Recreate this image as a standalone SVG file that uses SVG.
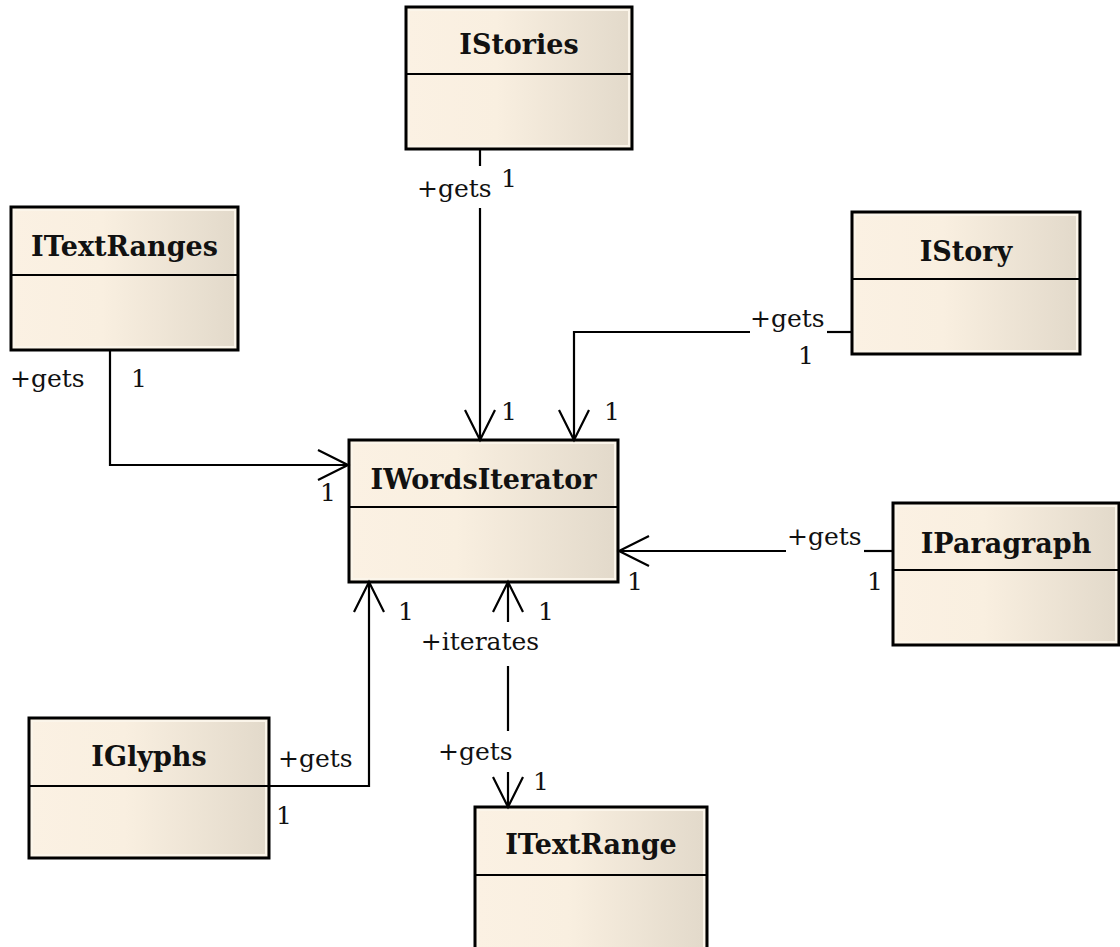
<svg xmlns="http://www.w3.org/2000/svg" width="1120" height="947" viewBox="0 0 1120 947">
<defs>
<linearGradient id="fill" x1="0" y1="0" x2="1" y2="0">
<stop offset="0" stop-color="#FBF1E3"/>
<stop offset="0.4" stop-color="#F9EFE0"/>
<stop offset="1" stop-color="#E2D9CA"/>
</linearGradient>
<marker id="open" viewBox="-34 -20 40 40" markerWidth="40" markerHeight="40" refX="0" refY="0" orient="auto" markerUnits="userSpaceOnUse">
<path d="M-30,-15 L0,0 L-30,15" fill="none" stroke="#000" stroke-width="2.2"/>
</marker>
<style>
.box{fill:url(#fill);stroke:#000;stroke-width:3}
.hl{fill:none;stroke:#FBF5EA;stroke-width:2}
.div{stroke:#000;stroke-width:2.2}
.title{font-family:"DejaVu Serif","Liberation Serif",serif;font-weight:bold;font-size:27px;text-anchor:middle;fill:#111}
.lbl{font-family:"DejaVu Serif","Liberation Serif",serif;font-size:25px;fill:#111}
.ln{fill:none;stroke:#000;stroke-width:2.2}
</style>
</defs>
<rect width="1120" height="947" fill="#fff"/>

<g id="IStories">
<rect class="box" x="406" y="7" width="226" height="142"/>
<rect class="hl" x="409" y="10" width="220" height="136"/>
<line class="div" x1="406" y1="74" x2="632" y2="74"/>
<text class="title" x="519" y="54">IStories</text>
</g>

<g id="ITextRanges">
<rect class="box" x="11" y="207" width="227" height="143"/>
<rect class="hl" x="14" y="210" width="221" height="137"/>
<line class="div" x1="11" y1="275" x2="238" y2="275"/>
<text class="title" x="124.5" y="256">ITextRanges</text>
</g>

<g id="IStory">
<rect class="box" x="852" y="212" width="228" height="142"/>
<rect class="hl" x="855" y="215" width="222" height="136"/>
<line class="div" x1="852" y1="279" x2="1080" y2="279"/>
<text class="title" x="966" y="261">IStory</text>
</g>

<g id="IWordsIterator">
<rect class="box" x="349" y="440" width="269" height="142"/>
<rect class="hl" x="352" y="443" width="263" height="136"/>
<line class="div" x1="349" y1="507" x2="618" y2="507"/>
<text class="title" x="483.5" y="489">IWordsIterator</text>
</g>

<g id="IParagraph">
<rect class="box" x="893" y="503" width="226" height="142"/>
<rect class="hl" x="896" y="506" width="220" height="136"/>
<line class="div" x1="893" y1="570" x2="1119" y2="570"/>
<text class="title" x="1006" y="553">IParagraph</text>
</g>

<g id="IGlyphs">
<rect class="box" x="29" y="718" width="240" height="140"/>
<rect class="hl" x="32" y="721" width="234" height="134"/>
<line class="div" x1="29" y1="786" x2="269" y2="786"/>
<text class="title" x="149" y="766">IGlyphs</text>
</g>

<g id="ITextRange">
<rect class="box" x="475" y="807" width="232" height="160"/>
<rect class="hl" x="478" y="810" width="226" height="154"/>
<line class="div" x1="475" y1="875" x2="707" y2="875"/>
<text class="title" x="591" y="854">ITextRange</text>
</g>

<g id="connectors">
<path class="ln" d="M480,149 V166"/>
<path class="ln" d="M480,208 V440" marker-end="url(#open)"/>
<path class="ln" d="M110,350 V465 H348" marker-end="url(#open)"/>
<path class="ln" d="M852,332 H827"/>
<path class="ln" d="M750,332 H574 V440" marker-end="url(#open)"/>
<path class="ln" d="M893,551 H864"/>
<path class="ln" d="M786,551 H619" marker-end="url(#open)"/>
<path class="ln" d="M269,786 H369 V582" marker-end="url(#open)"/>
<path class="ln" d="M508,622 V582" marker-end="url(#open)"/>
<path class="ln" d="M508,666 V731"/>
<path class="ln" d="M508,772 V807" marker-end="url(#open)"/>

<text class="lbl" x="417" y="197">+gets</text>
<text class="lbl" x="501" y="187">1</text>
<text class="lbl" x="501" y="420">1</text>

<text class="lbl" x="10" y="387">+gets</text>
<text class="lbl" x="131" y="387">1</text>
<text class="lbl" x="320" y="501">1</text>

<text class="lbl" x="750" y="327">+gets</text>
<text class="lbl" x="798" y="364">1</text>
<text class="lbl" x="604" y="420">1</text>

<text class="lbl" x="787" y="545">+gets</text>
<text class="lbl" x="867" y="590">1</text>
<text class="lbl" x="627" y="590">1</text>

<text class="lbl" x="278" y="767">+gets</text>
<text class="lbl" x="276" y="824">1</text>
<text class="lbl" x="398" y="620">1</text>

<text class="lbl" x="538" y="620">1</text>
<text class="lbl" x="480" y="650" text-anchor="middle">+iterates</text>
<text class="lbl" x="438" y="760">+gets</text>
<text class="lbl" x="533" y="790">1</text>
</g>
</svg>
